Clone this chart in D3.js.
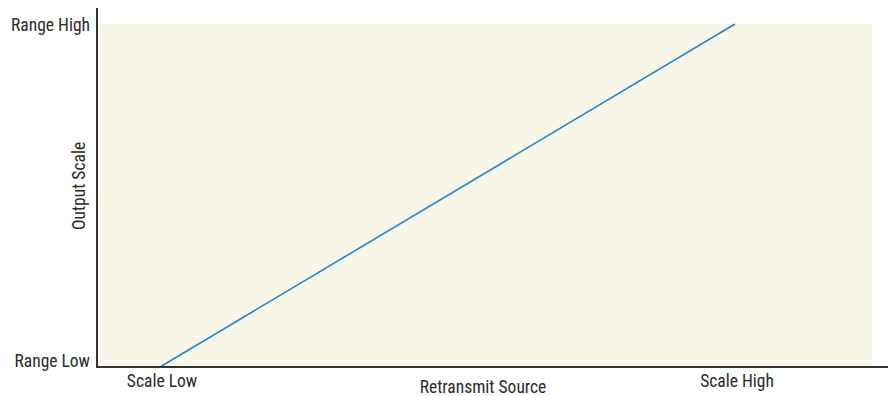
<!DOCTYPE html>
<html>
<head>
<meta charset="utf-8">
<script src="https://cdn.jsdelivr.net/npm/d3@7"></script>
<style>
  html, body { margin: 0; padding: 0; background: #fff; }
  svg text { font-family: "Liberation Sans Narrow", "Roboto Condensed", "Arial Narrow", Roboto, sans-serif; fill: #2b2b2b; font-size: 17.5px; }
</style>
</head>
<body>
<svg id="chart" width="890" height="396"></svg>
<script>
// Retransmit mapping: source scale endpoints to output range endpoints
const sourceTicks = ["Scale Low", "Scale High"];
const outputTicks = ["Range Low", "Range High"];
const sourceValues = [0, 1];
const outputValues = [0, 1];

const svg = d3.select("#chart");

const plot = { left: 97, right: 872, top: 24, bottom: 367 };

const x = d3.scaleLinear().domain([0, 1]).range([160, 735]);
const y = d3.scaleLinear().domain([0, 1]).range([plot.bottom, plot.top]);

// plot background
svg.append("rect")
  .attr("x", plot.left)
  .attr("y", plot.top)
  .attr("width", plot.right - plot.left)
  .attr("height", plot.bottom - plot.top)
  .attr("fill", "#f8f6e6");

// transfer line
const pts = sourceValues.map((v, i) => [v, outputValues[i]]);
svg.append("path")
  .datum(pts)
  .attr("fill", "none")
  .attr("stroke", "#2388cf")
  .attr("stroke-width", 1.6)
  .attr("d", d3.line().x(d => x(d[0])).y(d => y(d[1])));

// axes lines
svg.append("line")
  .attr("x1", plot.left).attr("x2", plot.left)
  .attr("y1", 8).attr("y2", plot.bottom + 1)
  .attr("stroke", "#333").attr("stroke-width", 2);
svg.append("line")
  .attr("x1", plot.left).attr("x2", 888)
  .attr("y1", plot.bottom).attr("y2", plot.bottom)
  .attr("stroke", "#333").attr("stroke-width", 2);

// x tick labels
svg.selectAll("text.xt")
  .data(sourceTicks)
  .join("text")
  .attr("class", "xt")
  .attr("x", (d, i) => x(sourceValues[i]) + 2)
  .attr("y", 387)
  .attr("text-anchor", "middle")
  .text(d => d);

// y tick labels
const yLabelY = [361, 25];
svg.selectAll("text.yt")
  .data(outputTicks)
  .join("text")
  .attr("class", "yt")
  .attr("x", 90)
  .attr("y", (d, i) => yLabelY[i])
  .attr("dy", "0.35em")
  .attr("text-anchor", "end")
  .text(d => d);

// axis titles
svg.append("text")
  .attr("x", 483)
  .attr("y", 393)
  .attr("text-anchor", "middle")
  .text("Retransmit Source");

svg.append("text")
  .attr("transform", "translate(85,186) rotate(-90)")
  .attr("text-anchor", "middle")
  .text("Output Scale");
</script>
</body>
</html>
